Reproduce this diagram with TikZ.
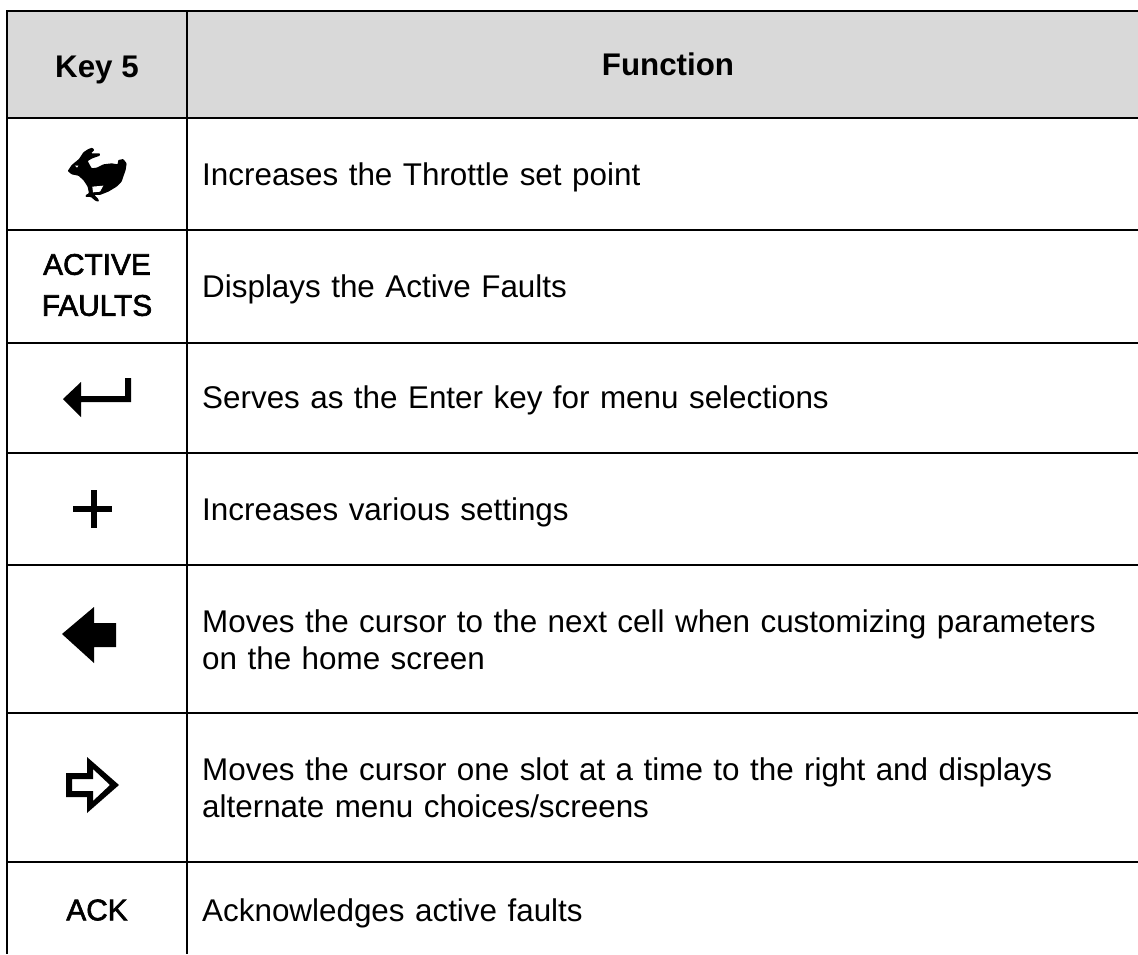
\documentclass[tikz,border=0pt]{standalone}
\usepackage{fontspec}
\setmainfont{Liberation Sans}
\newfontfamily\keyfont{Liberation Sans}[FakeBold=2]
\definecolor{hdr}{HTML}{D9D9D9}
\begin{document}
\begin{tikzpicture}[x=1pt,y=-1pt,
  rule/.style={line width=2pt,black},
  keytext/.style={anchor=center,font=\keyfont\fontsize{29.8}{41}\selectfont,align=center,inner sep=0pt},
  headtext/.style={anchor=base,font=\fontsize{31.3}{36}\selectfont\bfseries,inner sep=0pt},
  fntext/.style={anchor=base west,font=\fontsize{31.4}{37}\selectfont,align=left,inner sep=0pt,text width=920pt},
  glyph/.style={fill=black,draw=none}]
\useasboundingbox (0,0) rectangle (1138,954);
\fill[white] (0,0) rectangle (1138,954);
\fill[hdr] (7,11) rectangle (1138,117.5);
\draw[rule] (1138,11) -- (7,11) -- (7,954);
\draw[rule] (187,11) -- (187,954);
\foreach \y in {117.5,229.5,343,453,565,713,862} \draw[rule] (7,\y) -- (1138,\y);
\node[headtext] (k) at (97,77) {Key 5};
\node[headtext] (f) at (668,75) {Function};
\node[fntext] (r1) at (202,185) {Increases the Throttle set point};
\node[fntext] (r2) at (202,297) {Displays the Active Faults};
\node[fntext] (r3) at (202,408) {Serves as the Enter key for menu selections};
\node[fntext] (r4) at (202,520) {Increases various settings};
\node[fntext] (r5) at (202,632) {Moves the cursor to the next cell when customizing parameters\\on the home screen};
\node[fntext] (r6) at (202,780) {Moves the cursor one slot at a time to the right and displays\\alternate menu choices/screens};
\node[fntext] (r7) at (202,921) {Acknowledges active faults};
\node[keytext] (a1) at (97,285) {ACTIVE\\FAULTS};
\node[keytext] (a2) at (97,910) {ACK};
% rabbit
\begin{scope}[shift={(55,135)},x=0.3333pt,y=-0.3333pt]
\fill[glyph,rounded corners=0.8pt] (38,108) -- (50,90) -- (72,72) -- (85,52) -- (100,42) -- (112,38) -- (118,45) -- (108,55) -- (135,55) -- (135,62) -- (112,70) -- (98,78) -- (110,100) -- (125,98) -- (145,88) -- (170,85) -- (188,88) -- (190,75) -- (205,72) -- (215,85) -- (212,105) -- (205,125) -- (200,140) -- (185,155) -- (160,170) -- (135,180) -- (118,180) -- (130,192) -- (132,200) -- (122,198) -- (108,186) -- (92,186) -- (92,180) -- (102,175) -- (98,155) -- (85,135) -- (70,122) -- (50,118) -- cycle;
\fill[white] (112,155) -- (145,152) -- (135,170) -- (114,172) -- cycle;
\fill[white] (60,92) -- (70,92) -- (66,98) -- cycle;
\end{scope}
% enter
\fill[glyph] (63,399) -- (81,382) -- (81,396) -- (125,396) -- (125,378) -- (131,378) -- (131,402) -- (81,402) -- (81,417) -- cycle;
% plus
\fill[glyph] (91,490) rectangle (97,528);
\fill[glyph] (73,506) rectangle (112,512);
% left arrow
\fill[glyph] (62,634) -- (94,607) -- (94,623) -- (116,623) -- (116,647) -- (94,647) -- (94,663) -- cycle;
% right arrow
\fill[glyph,even odd rule] (66,773) -- (87,773) -- (87,757) -- (119,785) -- (87,813) -- (87,797) -- (66,797) -- cycle
  (72,779) -- (93,779) -- (93,769) -- (110,785) -- (93,801) -- (93,791) -- (72,791) -- cycle;
\end{tikzpicture}
\end{document}
